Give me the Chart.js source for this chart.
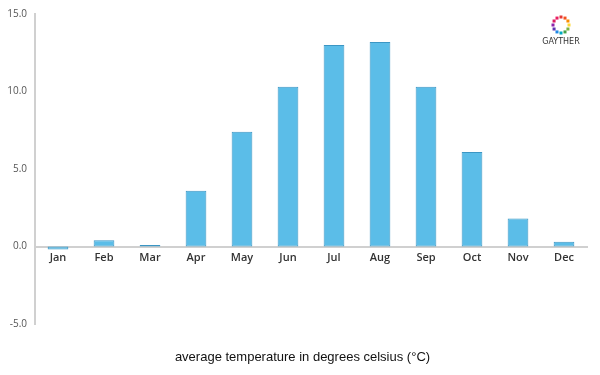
<!DOCTYPE html>
<html>
<head>
<meta charset="utf-8">
<script src="https://cdn.jsdelivr.net/npm/chart.js@4/dist/chart.umd.min.js"></script>
<style>
  html, body { margin: 0; padding: 0; background: #fff; }
  #wrap { width: 600px; height: 375px; position: relative; }
  #caption {
    position: absolute; left: 0; top: 349px; width: 605px; text-align: center;
    font: 13px "Liberation Sans", Arial, sans-serif; color: #111;
  }
</style>
</head>
<body>
<div id="wrap"><canvas id="tempChart"></canvas><div id="caption"></div></div>
<script>
const months = ["Jan", "Feb", "Mar", "Apr", "May", "Jun", "Jul", "Aug", "Sep", "Oct", "Nov", "Dec"];
const avgTemp = [-0.2, 0.4, 0.1, 3.6, 7.4, 10.3, 13.0, 13.2, 10.3, 6.1, 1.8, 0.3];
const yTicks = [-5, 0, 5, 10, 15];
const chartTitle = "average temperature in degrees celsius (°C)";

document.getElementById("caption").textContent = chartTitle;

// little ring logo in the top right corner
const logo = {
    id: "logo",
    afterDraw(chart) {
        const ctx = chart.ctx;
        const cx = 561, cy = 25, r = 8;
        const cols = ["#e53935", "#f4511e", "#fb8c00", "#fdd835", "#7cb342", "#43a047", "#00acc1", "#1e88e5", "#5e35b1", "#8e24aa", "#d81b60", "#e91e63"];
        ctx.save();
        for (let i = 0; i < cols.length; i++) {
            const a = (i / cols.length) * Math.PI * 2 - Math.PI / 2;
            ctx.fillStyle = cols[i];
            ctx.fillRect(cx + Math.cos(a) * r - 1.5, cy + Math.sin(a) * r - 1.5, 3, 3);
        }
        ctx.fillStyle = "#333";
        ctx.font = "8px 'DejaVu Sans', sans-serif";
        ctx.textAlign = "center";
        ctx.textBaseline = "middle";
        ctx.fillText("GAYTHER", cx, 42);
        ctx.restore();
    },
};

const config = {
    type: "bar",
    data: {
        labels: months,
        datasets: [
            {
                data: avgTemp,
                backgroundColor: "#5bbde8",
                borderColor: "#3b96c4",
                borderWidth: 1,
                borderSkipped: false,
                categoryPercentage: 0.9,
                barPercentage: 0.5,
            },
        ],
    },
    options: {
        responsive: false,
        animation: false,
        layout: {
            padding: { top: 14, right: 13, bottom: 51, left: 0 },
        },
        scales: {
            x: {
                position: { y: 0 },
                grid: { display: false, drawTicks: false },
                border: { display: true, color: "#d0d0d0", width: 2 },
                ticks: {
                    color: "#333",
                    font: { family: "'Open Sans', sans-serif", size: 11, weight: "600" },
                    padding: 5,
                },
            },
            y: {
                min: -5,
                max: 15,
                afterFit: (scale) => {
                    scale.width = 35;
                },
                afterBuildTicks: (scale) => {
                    scale.ticks = yTicks.map((v) => ({ value: v }));
                },
                grid: { display: false, drawTicks: false },
                border: { display: true, color: "#d0d0d0", width: 2 },
                ticks: {
                    color: "#555",
                    font: { family: "'Open Sans', sans-serif", size: 10 },
                    padding: 8,
                    callback: (value) => value.toFixed(1),
                },
            },
        },
        plugins: {
            legend: { display: false },
            tooltip: { enabled: false },
        },
    },
    plugins: [logo],
};

const canvas = document.getElementById("tempChart");
canvas.width = 600;
canvas.height = 375;
new Chart(canvas, config);
</script>
</body>
</html>
